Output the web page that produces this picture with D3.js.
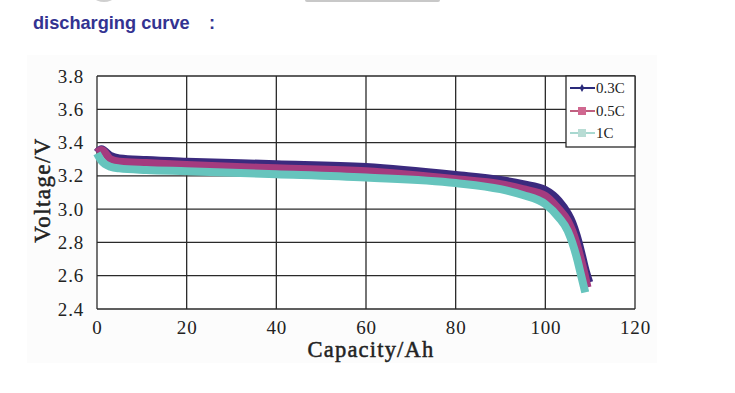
<!DOCTYPE html>
<html><head><meta charset="utf-8">
<script src="https://cdn.jsdelivr.net/npm/d3@7"></script>
<style>body{margin:0;background:#fff}svg{display:block}</style>
</head><body>
<svg id="c" width="735" height="393"></svg>
<script>
const xTicks = [0, 20, 40, 60, 80, 100, 120];
const yTicks = [2.4, 2.6, 2.8, 3.0, 3.2, 3.4, 3.6, 3.8];
const seriesNames = ["0.3C", "0.5C", "1C"];
const seriesColors = ["#3b2a7e", "#a43b7f", "#66c4bd"];
const cap03 = [0, 1, 3, 5, 11, 20, 40, 60, 80, 90, 95, 100, 103, 105, 106, 107, 108, 109, 109.8];
const v03   = [3.34, 3.36, 3.32, 3.305, 3.295, 3.285, 3.27, 3.253, 3.205, 3.175, 3.15, 3.115, 3.05, 2.975, 2.92, 2.84, 2.74, 2.63, 2.56];
const cap05 = [0, 1, 3, 5, 11, 20, 40, 60, 80, 90, 95, 100, 103, 105, 106, 107, 108, 109, 109.4];
const v05   = [3.34, 3.355, 3.3, 3.285, 3.277, 3.265, 3.245, 3.228, 3.18, 3.15, 3.12, 3.08, 3.0, 2.93, 2.87, 2.79, 2.69, 2.58, 2.53];
const cap1  = [0, 1, 3, 5, 11, 20, 40, 60, 80, 90, 95, 100, 103, 105, 106, 107, 108, 108.9];
const v1    = [3.335, 3.29, 3.255, 3.245, 3.235, 3.228, 3.21, 3.19, 3.157, 3.12, 3.085, 3.03, 2.95, 2.87, 2.8, 2.71, 2.6, 2.5];
const seriesCap = [cap03, cap05, cap1];
const seriesV = [v03, v05, v1];

const SERIF = "'Liberation Serif', 'Times New Roman', serif";
const SANS = "'Liberation Sans', Arial, sans-serif";
const svg = d3.select("#c");
const L = 97, R = 635, T = 76, B = 309;
const x = d3.scaleLinear().domain([0, 120]).range([L, R]);
const y = d3.scaleLinear().domain([2.4, 3.8]).range([B, T]);

// top artifacts
svg.append("rect").attr("x", 305).attr("y", -3).attr("width", 135).attr("height", 5).attr("rx", 2).attr("fill", "#c8c8c8");
svg.append("ellipse").attr("cx", 104).attr("cy", -2).attr("rx", 9).attr("ry", 4).attr("fill", "#cfcfcf");

// title
svg.append("text").attr("x", 33).attr("y", 29).style("font-family", SANS)
  .style("font-weight", "bold").style("font-size", "18.2px").attr("fill", "#333391").text("discharging curve");
svg.append("text").attr("x", 209).attr("y", 29).style("font-family", SANS)
  .style("font-weight", "bold").style("font-size", "18.2px").attr("fill", "#333391").text(":");

// faint image background
svg.append("rect").attr("x", 27).attr("y", 55).attr("width", 630).attr("height", 308).attr("fill", "#fcfcfc");
svg.append("rect").attr("x", L).attr("y", T).attr("width", R - L).attr("height", B - T).attr("fill", "#ffffff");

// grid
const g = svg.append("g");
g.selectAll(".hg").data(yTicks).join("line")
  .attr("x1", L).attr("x2", R).attr("y1", d => y(d)).attr("y2", d => y(d))
  .attr("stroke", "#2a2a2a").attr("stroke-width", 1.3);
g.selectAll(".vg").data(xTicks).join("line")
  .attr("y1", T).attr("y2", B).attr("x1", d => x(d)).attr("x2", d => x(d))
  .attr("stroke", "#2a2a2a").attr("stroke-width", 1.3);

// axes labels via d3 axes
const xAxis = svg.append("g").attr("transform", `translate(0,${B})`)
  .call(d3.axisBottom(x).tickValues(xTicks).tickSize(0).tickPadding(12).tickFormat(d3.format("d")));
xAxis.select(".domain").remove();
xAxis.attr("font-family", SERIF).attr("font-size", 19);
xAxis.selectAll("text").style("font-family", SERIF).style("font-size", "19px").style("letter-spacing", "0.8px").attr("fill", "#222");
const yAxis = svg.append("g").attr("transform", `translate(${L},0)`)
  .call(d3.axisLeft(y).tickValues(yTicks).tickSize(0).tickPadding(13).tickFormat(d3.format(".1f")));
yAxis.select(".domain").remove();
yAxis.attr("font-family", SERIF).attr("font-size", 19);
yAxis.selectAll("text").style("font-family", SERIF).style("font-size", "19px").style("letter-spacing", "0.8px").attr("fill", "#222");

// series
const line = d3.line().curve(d3.curveMonotoneX);
seriesNames.forEach((n, i) => {
  const pts = seriesCap[i].map((c, j) => [x(c), y(seriesV[i][j])]);
  svg.append("path").attr("d", line(pts)).attr("fill", "none")
    .attr("stroke", seriesColors[i]).attr("stroke-width", 8).attr("stroke-linejoin", "round");
});

// axis titles
svg.append("text").attr("transform", "translate(50,190) rotate(-90)").attr("text-anchor", "middle")
  .style("font-family", SERIF).style("font-size", "23px").style("letter-spacing", "1.4px")
  .attr("fill", "#222").attr("stroke", "#222").attr("stroke-width", 0.5).text("Voltage/V");
svg.append("text").attr("x", 371).attr("y", 357).attr("text-anchor", "middle")
  .style("font-family", SERIF).style("font-size", "22.5px").style("letter-spacing", "1.2px")
  .attr("fill", "#222").attr("stroke", "#222").attr("stroke-width", 0.5).text("Capacity/Ah");

// legend
const lg = svg.append("g");
lg.append("rect").attr("x", 566).attr("y", 76).attr("width", 69).attr("height", 71)
  .attr("fill", "#fff").attr("stroke", "#2a2a2a").attr("stroke-width", 1.3);
const legY = [88, 111, 133];
const legCol = ["#2a2a7a", "#c06080", "#a8d8d0"];
const legMarkCol = ["#2a2a7a", "#d06890", "#b8dcd4"];
seriesNames.forEach((n, i) => {
  lg.append("line").attr("x1", 570).attr("x2", 595).attr("y1", legY[i]).attr("y2", legY[i])
    .attr("stroke", legCol[i]).attr("stroke-width", 2);
  if (i === 0) {
    lg.append("path").attr("d", d3.symbol(d3.symbolDiamond, 18)()).attr("transform", `translate(582,${legY[i]})`).attr("fill", legMarkCol[i]);
  } else {
    lg.append("rect").attr("x", 578).attr("y", legY[i] - 4).attr("width", 8).attr("height", 8).attr("fill", legMarkCol[i]);
  }
  lg.append("text").attr("x", 596).attr("y", legY[i] + 5).style("font-family", SERIF)
    .style("font-size", "15px").attr("fill", "#222").text(n);
});
</script>
</body></html>
